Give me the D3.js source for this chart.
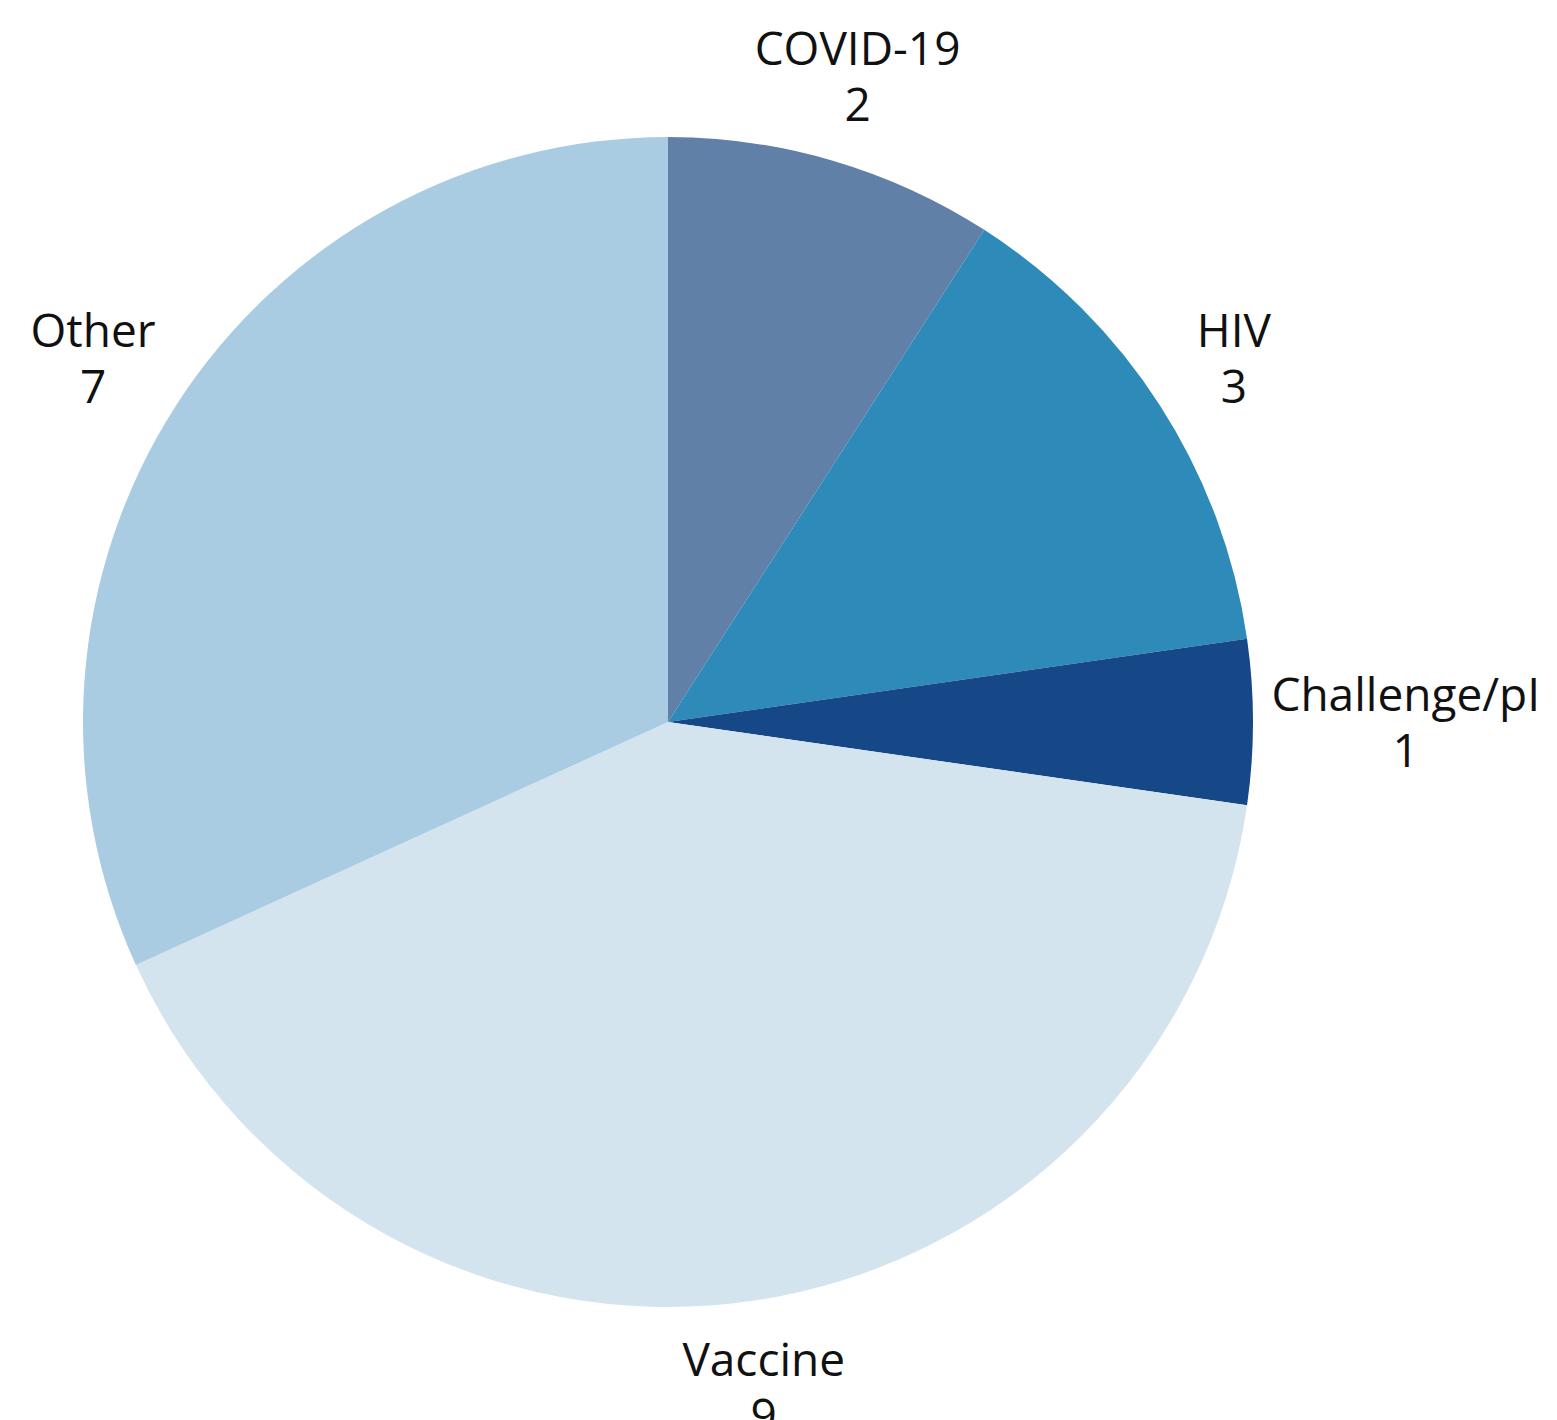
<!DOCTYPE html>
<html>
<head>
<meta charset="utf-8">
<script src="https://cdn.jsdelivr.net/npm/d3@7"></script>
<style>
  body { margin: 0; background: #fff; }
  text { font-family: "Open Sans", "Noto Sans", sans-serif; fill: #111; }
</style>
</head>
<body>
<svg id="chart" width="1557" height="1420"></svg>
<script>
const categories = ["COVID-19", "HIV", "Challenge/pI", "Vaccine", "Other"]
const counts = [2, 3, 1, 9, 7]
const colours = ["#6080a8", "#2e8ab8", "#164787", "#d4e4ef", "#aacce2"]

const cx = 668, cy = 722, radius = 585
const labelRadius = radius * 1.15
const fontSize = 46
const capH = 33
const lineGap = 56
const gap = 18
// baselines of the two label lines, relative to the label centre
const base1 = -lineGap / 2 + capH / 2
const base2 = lineGap / 2 + capH / 2

const svg = d3.select('#chart')
const g = svg.append('g').attr('transform', `translate(${cx},${cy})`)

const pie = d3.pie().sort(null).value(d => d.value)
const data = pie(categories.map((c, i) => ({ name: c, value: counts[i], colour: colours[i] })))

const arc = d3.arc().innerRadius(0).outerRadius(radius)
const labelArc = d3.arc().innerRadius(labelRadius).outerRadius(labelRadius)

g.selectAll('path')
  .data(data)
  .enter().append('path')
  .attr('d', arc)
  .attr('fill', d => d.data.colour)

const labels = g.selectAll('text.lbl')
  .data(data)
  .enter().append('text')
  .attr('class', 'lbl')
  .attr('text-anchor', 'middle')
  .attr('font-size', fontSize)
  .attr('transform', d => `translate(${labelArc.centroid(d)})`)

labels.append('tspan').attr('x', 0).attr('y', base1).text(d => d.data.name)
labels.append('tspan').attr('x', 0).attr('y', base2).text(d => d.data.value)

// push labels that would sit on the pie outward horizontally
labels.each(function (d) {
  const bb = this.getBBox()
  const [lx, ly] = labelArc.centroid(d)
  let shift = 0
  for (let i = 0; i < 400; i++) {
    const x0 = lx + shift + bb.x, x1 = x0 + bb.width
    const y0 = ly + base1 - capH, y1 = ly + base2
    const nx = Math.max(x0, Math.min(0, x1))
    const ny = Math.max(y0, Math.min(0, y1))
    if (Math.hypot(nx, ny) >= radius + gap) break
    shift += lx >= 0 ? 1 : -1
  }
  d3.select(this).attr('transform', `translate(${lx + shift},${ly})`)
})
</script>
</body>
</html>
